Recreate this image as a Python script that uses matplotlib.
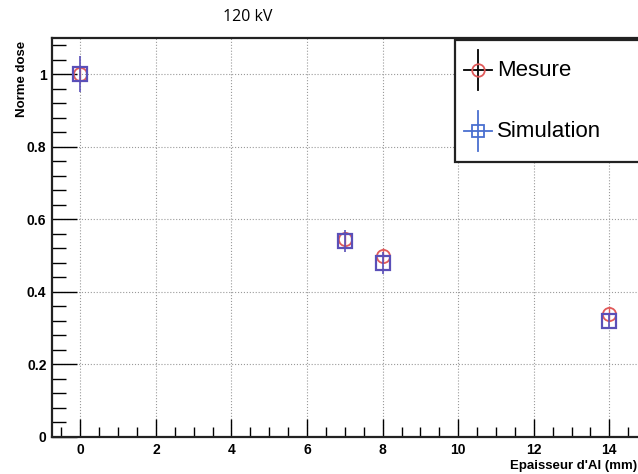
import numpy as np
import matplotlib
matplotlib.use('Agg')
import matplotlib.pyplot as plt
import matplotlib.patches as mpatches
from matplotlib.lines import Line2D
from matplotlib.ticker import MultipleLocator

# Epaisseur d'aluminium (mm) et dose normalisee
thick_mes = [0, 7, 8, 14]
dose_mes = [1.0, 0.545, 0.50, 0.34]
err_mes = [0.02, 0.02, 0.02, 0.02]

thick_sim = [0, 7, 8, 14]
dose_sim = [1.0, 0.54, 0.48, 0.32]
err_sim = [0.05, 0.03, 0.03, 0.02]

labels = ['Mesure', 'Simulation']

plt.rcParams['font.family'] = ['Liberation Sans', 'DejaVu Sans']

fig = plt.figure(figsize=(6.38, 4.74), dpi=100)
fig.patch.set_facecolor('white')
W, H = 638, 474
x0, x1, ytop, ybot = 52, 666, 38, 437
ax = fig.add_axes([x0 / W, 1 - ybot / H, (x1 - x0) / W, (ybot - ytop) / H])

ax.set_xlim(-0.75, 15.5)
ax.set_ylim(0, 1.1)

ax.errorbar(thick_mes, dose_mes, yerr=err_mes, xerr=0,
            fmt='o', ms=9.5, mfc='none', mec='#e05a5a', mew=1.3,
            ecolor='#e05a5a', elinewidth=1.0, capsize=0, zorder=4)
ax.errorbar(thick_sim, dose_sim, yerr=err_sim, xerr=0,
            fmt='s', ms=10.5, mfc='none', mec='#5a4fb8', mew=1.6,
            ecolor='#5a4fb8', elinewidth=1.2, capsize=0, zorder=5)

ax.xaxis.set_major_locator(MultipleLocator(2))
ax.xaxis.set_minor_locator(MultipleLocator(0.5))
ax.yaxis.set_major_locator(MultipleLocator(0.2))
ax.yaxis.set_minor_locator(MultipleLocator(0.04))
ax.set_yticks([0, 0.2, 0.4, 0.6, 0.8, 1.0])
ax.set_yticklabels(['0', '0.2', '0.4', '0.6', '0.8', '1'])

ax.tick_params(axis='both', which='major', direction='in', length=13,
               width=1.0, labelsize=10, pad=4)
ax.tick_params(axis='both', which='minor', direction='in', length=7, width=1.0)
ax.tick_params(axis='y', which='major', length=18)
ax.tick_params(axis='y', which='minor', length=10)
for lab in ax.get_xticklabels() + ax.get_yticklabels():
    lab.set_fontweight('bold')

ax.grid(True, which='major', color='#9a9a9a', ls=':', lw=0.8)
ax.set_axisbelow(True)
for side in ['left', 'bottom', 'top', 'right']:
    ax.spines[side].set_linewidth(1.6)
    ax.spines[side].set_color('#222222')

# ── legende (cadre + croix d'erreur + marqueur) ─────────────────────────────
lx0, ly0, lx1, ly1 = 455, 40, 662, 162
fig.add_artist(mpatches.Rectangle((lx0 / W, 1 - ly1 / H), (lx1 - lx0) / W,
                                  (ly1 - ly0) / H, transform=fig.transFigure,
                                  facecolor='white', edgecolor='#222222',
                                  lw=1.6, zorder=9))

entries = [
    (labels[0], 70, 'o', '#e05a5a', 'black'),
    (labels[1], 131, 's', '#4a6fd0', '#4a6fd0'),
]
cx = 478
for text, cy, mk, mcol, ecol in entries:
    fy = 1 - cy / H
    fig.add_artist(Line2D([(cx - 14) / W, (cx + 14) / W], [fy, fy],
                          transform=fig.transFigure, color=ecol, lw=1.3,
                          zorder=10))
    fig.add_artist(Line2D([cx / W, cx / W], [fy - 20 / H, fy + 20 / H],
                          transform=fig.transFigure, color=ecol, lw=1.3,
                          zorder=10))
    fig.add_artist(Line2D([cx / W], [fy], transform=fig.transFigure,
                          marker=mk, ms=9, mfc='none', mec=mcol, mew=1.3,
                          ls='none', zorder=11))
    fig.text(497 / W, fy, text, ha='left', va='center', fontsize=16,
             zorder=11)

fig.text(248 / W, 1 - 17 / H, '120 kV', ha='center', va='center',
         fontsize=11.5, family=['Open Sans', 'DejaVu Sans'])
fig.text(637 / W, 1 - 466 / H, "Epaisseur d'Al (mm)", ha='right',
         va='center', fontsize=9.5, fontweight='bold')
fig.text(22 / W, 1 - 41 / H, 'Norme dose', ha='center', va='top',
         rotation=90, fontsize=9.5, fontweight='bold')

fig.savefig('out.png', dpi=100)
